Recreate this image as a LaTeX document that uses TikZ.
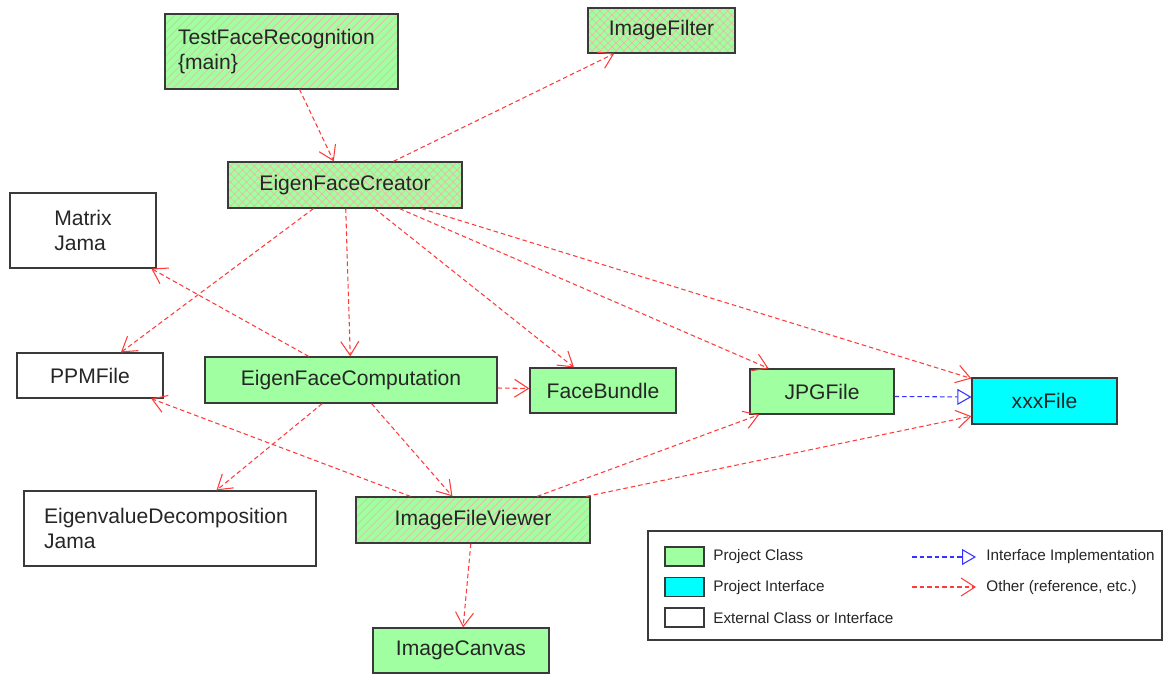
\documentclass[tikz,border=0pt]{standalone}
\usepackage{fontspec}
\setmainfont{Liberation Sans}
\usetikzlibrary{arrows.meta,patterns.meta}
\definecolor{umlgreen}{HTML}{A0FFA0}
\definecolor{umlcyan}{HTML}{00FFFF}
\definecolor{umlred}{HTML}{FF3B3B}
\definecolor{umlblue}{HTML}{3333FF}
\definecolor{umlhatch}{HTML}{FFA8A8}
\definecolor{umlframe}{HTML}{3A3A3A}
\tikzset{
  cls/.style={draw=umlframe, line width=0.7pt, inner sep=0pt, align=center,
    font=\fontsize{12}{14.2}\selectfont, text=black!85},
  projcls/.style={cls, fill=umlgreen},
  projif/.style={cls, fill=umlcyan},
  extcls/.style={cls, fill=white},
  hatchline/.style={cls, preaction={fill=umlgreen},
    pattern={Lines[angle=45, distance=3.2pt, line width=0.3pt]}, pattern color=umlhatch},
  hatchcross/.style={cls, preaction={fill=umlgreen},
    preaction={pattern={Lines[angle=-45, distance=3.2pt, line width=0.3pt]}, pattern color=umlhatch},
    pattern={Lines[angle=45, distance=3.2pt, line width=0.3pt]}, pattern color=umlhatch},
  refarrow/.style={-{Straight Barb[length=2.8mm,width=3.6mm]}, draw=umlred,
    line width=0.6pt, dash pattern=on 2.6pt off 1.7pt},
  implarrow/.style={-{Triangle[open,length=2.8mm,width=3.2mm,fill=white]},
    draw=umlblue, line width=0.6pt, dash pattern=on 2.6pt off 1.7pt},
  legswatch/.style={draw=umlframe, line width=0.6pt, minimum width=0.78cm,
    minimum height=0.38cm, inner sep=0pt},
  legtext/.style={font=\fontsize{8.7}{10}\selectfont, anchor=west, inner sep=0pt,
    text=black!85}
}

\begin{document}
\begin{tikzpicture}[x=0.02cm, y=-0.02cm]
  \useasboundingbox (0,0) rectangle (1164,675);

  % classes
  \node[hatchline, text width=4.14cm, inner xsep=0.26cm, align=left, minimum height=1.5cm]
    (tfr) at (281.5,51.5) {TestFaceRecognition\\\{main\}};
  \node[hatchcross, minimum width=2.94cm, minimum height=0.9cm] (filter) at (661.5,30.5) {ImageFilter};
  \node[hatchcross, minimum width=4.68cm, minimum height=0.92cm] (creator) at (345,185) {EigenFaceCreator};
  \node[extcls, align=left, minimum width=2.92cm, minimum height=1.5cm] (matrix) at (83,230.5) {Matrix\\Jama};
  \node[extcls, minimum width=2.92cm, minimum height=0.9cm] (ppm) at (90,375.5) {PPMFile};
  \node[projcls, minimum width=5.84cm, minimum height=0.92cm] (comp) at (351,380) {EigenFaceComputation};
  \node[projcls, minimum width=2.92cm, minimum height=0.9cm] (bundle) at (603,390.5) {FaceBundle};
  \node[projcls, minimum width=2.88cm, minimum height=0.9cm] (jpg) at (822,391.5) {JPGFile};
  \node[projif, minimum width=2.9cm, minimum height=0.92cm] (xxx) at (1044.5,401) {xxxFile};
  \node[extcls, text width=5.04cm, inner xsep=0.4cm, align=left, minimum height=1.5cm]
    (evd) at (170,528.5) {EigenvalueDecomposition\\Jama};
  \node[hatchline, minimum width=4.68cm, minimum height=0.92cm] (viewer) at (473,520) {ImageFileViewer};
  \node[projcls, minimum width=3.52cm, minimum height=0.9cm] (canvas) at (461,650.5) {ImageCanvas};

  % dependencies
  \draw[refarrow] (tfr) -- (creator);
  \draw[refarrow] (creator) -- (filter);
  \draw[refarrow] (creator) -- (ppm);
  \draw[refarrow] (creator) -- (comp);
  \draw[refarrow] (creator) -- (bundle);
  \draw[refarrow] (creator) -- (jpg);
  \draw[refarrow] (creator) -- (xxx);
  \draw[refarrow] (comp) -- (matrix);
  \draw[refarrow] ([yshift=-0.16cm]comp.east) -- ([yshift=0.04cm]bundle.west);
  \draw[refarrow] (comp) -- (evd);
  \draw[refarrow] (comp) -- (viewer);
  \draw[refarrow] (viewer) -- (ppm);
  \draw[refarrow] (viewer) -- (jpg);
  \draw[refarrow] (viewer) -- (xxx);
  \draw[refarrow] (viewer) -- (canvas);
  \draw[implarrow] ([yshift=-0.1cm]jpg.east) -- ([yshift=0.08cm]xxx.west);

  % legend
  \node[draw=umlframe, line width=0.7pt, fill=white, minimum width=10.28cm, minimum height=2.18cm,
    inner sep=0pt] (legend) at (905,585.5) {};
  \node[legswatch, fill=umlgreen] (swcls) at (684.5,556.5) {};
  \node[legswatch, fill=umlcyan] (swif) at (684.5,587) {};
  \node[legswatch, fill=white] (swext) at (684.5,617.5) {};
  \node[legtext] (lcls) at (713,557) {Project Class};
  \node[legtext] (lif) at (713,587.5) {Project Interface};
  \node[legtext] (lext) at (713,618) {External Class or Interface};
  \coordinate (impla) at (912,557);
  \coordinate (implb) at (976,557);
  \coordinate (refa) at (912,587);
  \coordinate (refb) at (976,587);
  \draw[implarrow] (impla) -- (implb);
  \draw[refarrow] (refa) -- (refb);
  \node[legtext] (limpl) at (986,557) {Interface Implementation};
  \node[legtext] (lref) at (986,587.5) {Other (reference, etc.)};
\end{tikzpicture}
\end{document}
